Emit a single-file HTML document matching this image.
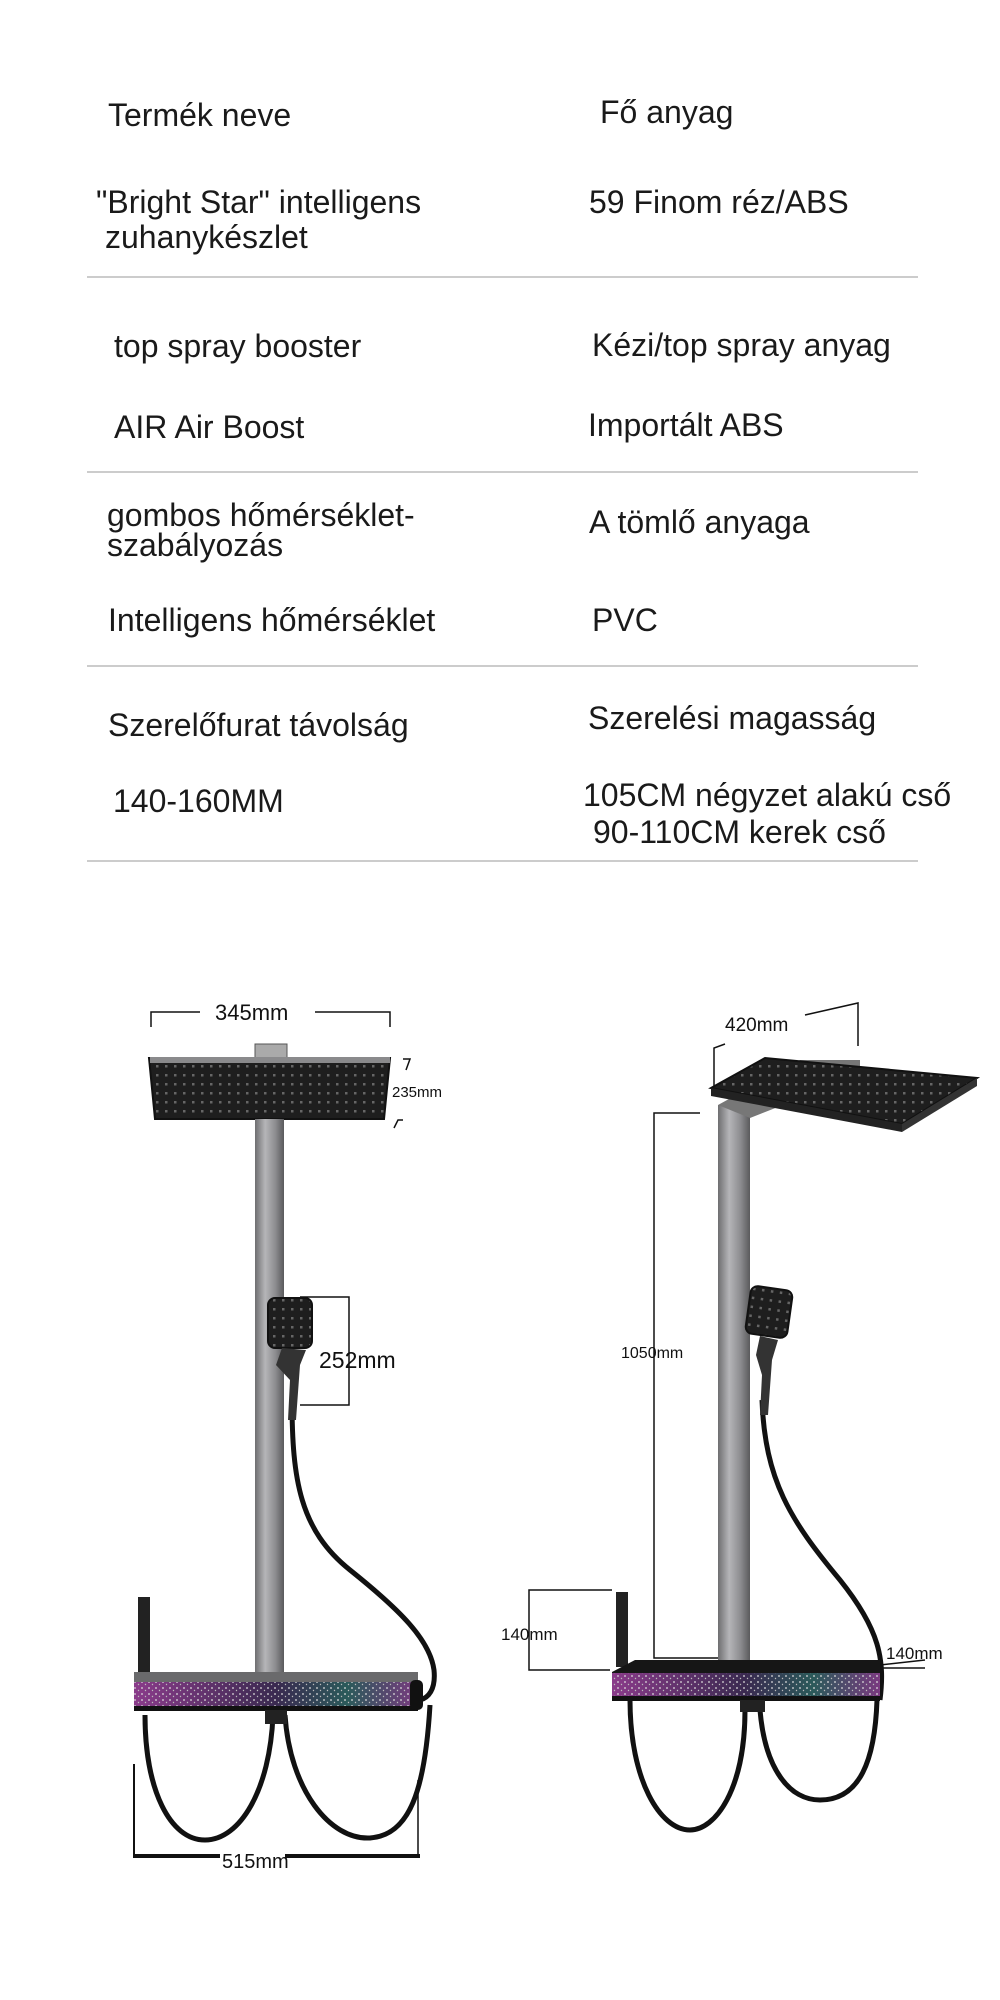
<!DOCTYPE html>
<html><head><meta charset="utf-8"><style>
html,body{margin:0;padding:0;background:#fff;}
svg{display:block;}
.t{font-family:"Liberation Sans","DejaVu Sans",sans-serif;font-size:32px;fill:#1a1a1a;}
.d{font-family:"Liberation Sans","DejaVu Sans",sans-serif;fill:#111;}
</style></head><body>
<svg width="1000" height="2000" viewBox="0 0 1000 2000" xmlns="http://www.w3.org/2000/svg">
<defs>
<linearGradient id="pole" x1="0" x2="1"><stop offset="0" stop-color="#6e6e70"/><stop offset="0.35" stop-color="#b5b5b8"/><stop offset="0.7" stop-color="#8d8d90"/><stop offset="1" stop-color="#5a5a5c"/></linearGradient>
<linearGradient id="bar" x1="0" x2="1"><stop offset="0" stop-color="#8a3b8a"/><stop offset="0.5" stop-color="#3a2a50"/><stop offset="0.75" stop-color="#2b5a5a"/><stop offset="1" stop-color="#7a3a80"/></linearGradient>
<pattern id="dots" width="9" height="9" patternUnits="userSpaceOnUse"><rect width="9" height="9" fill="#1e1e1e"/><rect x="3" y="3" width="2.5" height="2.5" fill="#666"/></pattern>
<pattern id="sp" width="7" height="6" patternUnits="userSpaceOnUse"><circle cx="2" cy="2" r="0.9" fill="#ddd"/><circle cx="5.5" cy="4.5" r="0.7" fill="#bbb"/></pattern>
</defs>

<text class="t" x="108" y="126">Termék neve</text>
<text class="t" x="600" y="123">Fő anyag</text>
<text class="t" x="96" y="213">"Bright Star" intelligens</text>
<text class="t" x="105" y="248">zuhanykészlet</text>
<text class="t" x="589" y="213">59 Finom réz/ABS</text>
<line x1="87" y1="277" x2="918" y2="277" stroke="#bbb" stroke-width="1.5"/>
<text class="t" x="114" y="357">top spray booster</text>
<text class="t" x="592" y="356">Kézi/top spray anyag</text>
<text class="t" x="114" y="438">AIR Air Boost</text>
<text class="t" x="588" y="436">Importált ABS</text>
<line x1="87" y1="472" x2="918" y2="472" stroke="#bbb" stroke-width="1.5"/>
<text class="t" x="107" y="526">gombos hőmérséklet-</text>
<text class="t" x="107" y="556">szabályozás</text>
<text class="t" x="589" y="533">A tömlő anyaga</text>
<text class="t" x="108" y="631">Intelligens hőmérséklet</text>
<text class="t" x="592" y="631">PVC</text>
<line x1="87" y1="666" x2="918" y2="666" stroke="#bbb" stroke-width="1.5"/>
<text class="t" x="108" y="736">Szerelőfurat távolság</text>
<text class="t" x="588" y="729">Szerelési magasság</text>
<text class="t" x="113" y="812">140-160MM</text>
<text class="t" x="583" y="806">105CM négyzet alakú cső</text>
<text class="t" x="593" y="843">90-110CM kerek cső</text>
<line x1="87" y1="861" x2="918" y2="861" stroke="#bbb" stroke-width="1.5"/>

<!-- LEFT SHOWER -->
<g stroke="#111" stroke-width="1.5" fill="none">
<path d="M151 1027 V1012 H200 M315 1012 H390 V1027"/>
<path d="M403 1059 L410 1059 L406 1070 M403 1120 L398 1120 L394 1128"/>
<path d="M300 1297 H349 V1405 H300"/>
</g>
<text class="d" x="215" y="1020" font-size="22">345mm</text>
<text class="d" x="392" y="1097" font-size="15">235mm</text>
<text class="d" x="319" y="1368" font-size="23">252mm</text>
<rect x="255" y="1044" width="32" height="15" fill="#aaa" stroke="#555"/>
<path d="M149 1058 H390 L384 1119 H155 Z" fill="url(#dots)" stroke="#111" stroke-width="2"/>
<rect x="150" y="1057" width="240" height="6" fill="#8a8a8c"/>
<rect x="255" y="1119" width="29" height="558" fill="url(#pole)"/>
<path d="M292 1400 C292 1480 300 1530 350 1570 C400 1610 430 1640 434 1670 C436 1690 428 1698 420 1700" fill="none" stroke="#111" stroke-width="5"/>
<path d="M273 1715 C270 1790 240 1840 205 1840 C170 1840 145 1790 145 1715" fill="none" stroke="#111" stroke-width="5"/>
<path d="M285 1715 C290 1790 330 1840 370 1838 C410 1835 425 1790 430 1705" fill="none" stroke="#111" stroke-width="5"/>
<rect x="268" y="1298" width="44" height="50" rx="7" fill="url(#dots)" stroke="#111" stroke-width="2"/>
<path d="M282 1348 L276 1365 L290 1380 L288 1420 H296 L300 1365 L306 1350 Z" fill="#333"/>
<rect x="138" y="1597" width="12" height="78" fill="#222"/>
<rect x="134" y="1672" width="284" height="10" fill="#6a6a6c"/>
<rect x="134" y="1682" width="284" height="26" fill="url(#bar)"/>
<rect x="134" y="1682" width="284" height="26" fill="url(#sp)"/>
<rect x="134" y="1706" width="284" height="5" fill="#111"/>
<rect x="410" y="1680" width="13" height="30" rx="5" fill="#111"/>
<rect x="265" y="1710" width="22" height="14" fill="#222"/>
<g stroke="#111" fill="none">
<path d="M134 1764 V1858" stroke-width="2"/>
<path d="M418 1780 V1858" stroke-width="1.5"/>
<path d="M134 1856 H220 M285 1856 H420" stroke-width="4"/>
</g>
<text class="d" x="222" y="1868" font-size="20">515mm</text>

<!-- RIGHT SHOWER -->
<g stroke="#111" stroke-width="1.5" fill="none">
<path d="M714 1090 V1048 L725 1044 M805 1015 L858 1003 V1046"/>
<path d="M700 1113 H654 V1658 H720"/>
<path d="M612 1590 H529 V1670 H610"/>
<path d="M880 1665 L925 1660 M880 1668 L925 1668"/>
</g>
<text class="d" x="725" y="1031" font-size="19">420mm</text>
<text class="d" x="621" y="1358" font-size="16">1050mm</text>
<text class="d" x="501" y="1640" font-size="17">140mm</text>
<text class="d" x="886" y="1659" font-size="17">140mm</text>
<rect x="718" y="1105" width="32" height="572" fill="url(#pole)"/>
<path d="M718 1105 L800 1060 L860 1060 L860 1075 L750 1118 Z" fill="#777"/>
<path d="M711 1088 L765 1058 L977 1078 L902 1124 Z" fill="url(#dots)" stroke="#111" stroke-width="2"/>
<path d="M711 1088 L902 1124 L902 1132 L711 1096 Z" fill="#222"/>
<path d="M902 1124 L977 1078 L977 1086 L902 1132 Z" fill="#333"/>
<path d="M762 1400 C765 1480 790 1520 840 1580 C880 1630 885 1660 880 1700" fill="none" stroke="#111" stroke-width="5"/>
<path d="M745 1710 C745 1790 715 1830 690 1830 C660 1830 630 1780 630 1700" fill="none" stroke="#111" stroke-width="5"/>
<path d="M760 1710 C765 1770 790 1800 820 1800 C860 1800 875 1760 877 1700" fill="none" stroke="#111" stroke-width="5"/>
<rect x="748" y="1288" width="42" height="48" rx="7" fill="url(#dots)" stroke="#111" stroke-width="2" transform="rotate(8 769 1312)"/>
<path d="M760 1336 L756 1355 L762 1375 L760 1415 H768 L772 1360 L778 1340 Z" fill="#333"/>
<rect x="616" y="1592" width="12" height="75" fill="#222"/>
<path d="M612 1672 L635 1660 H880 V1676 H612 Z" fill="#161616"/>
<rect x="612" y="1673" width="268" height="25" fill="url(#bar)"/>
<rect x="612" y="1673" width="268" height="25" fill="url(#sp)"/>
<rect x="612" y="1696" width="268" height="5" fill="#111"/>
<rect x="740" y="1700" width="25" height="12" fill="#222"/>
</svg>
</body></html>
